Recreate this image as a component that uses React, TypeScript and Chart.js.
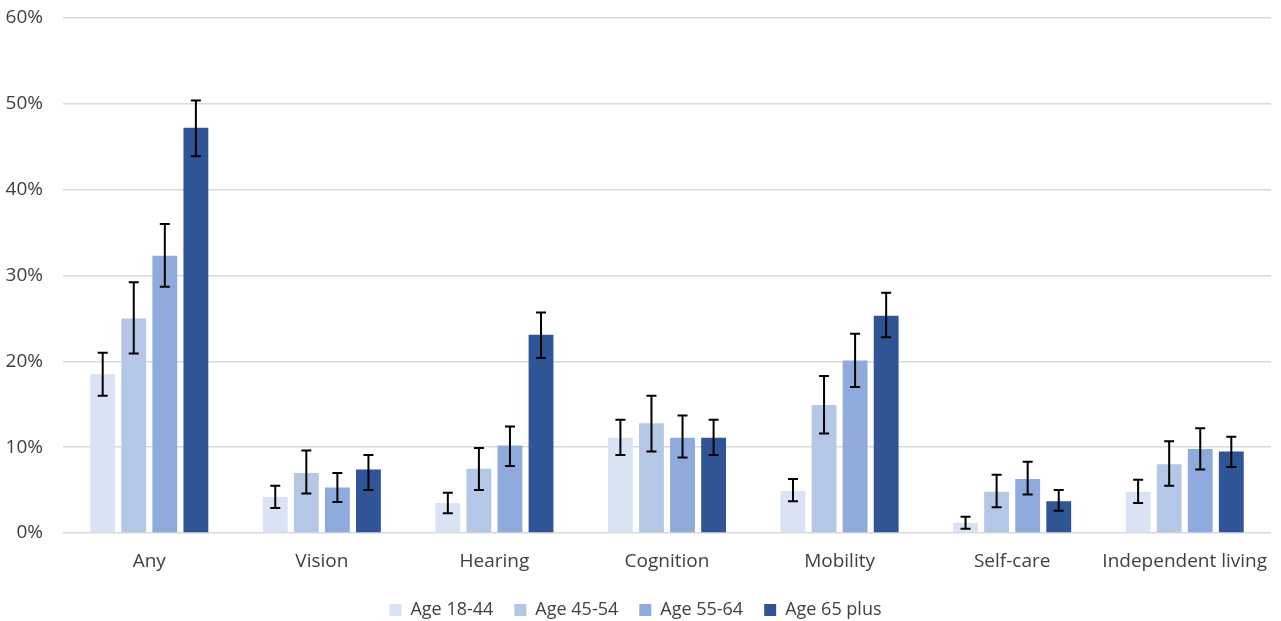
import React, { useEffect, useRef } from "react";
import { Chart, registerables } from "chart.js";

Chart.register(...registerables);

const categories = ["Any", "Vision", "Hearing", "Cognition", "Mobility", "Self-care", "Independent living"];
const seriesLabels = ["Age 18-44", "Age 45-54", "Age 55-64", "Age 65 plus"];
const colors = ["#dae3f3", "#b4c7e7", "#8faadc", "#2f5597"];

const age1844 = [18.5, 4.2, 3.5, 11.1, 4.9, 1.2, 4.8];
const age4554 = [25.0, 7.0, 7.5, 12.8, 14.9, 4.8, 8.0];
const age5564 = [32.3, 5.3, 10.2, 11.1, 20.1, 6.3, 9.8];
const age65plus = [47.2, 7.4, 23.1, 11.1, 25.3, 3.7, 9.5];

const hi1844 = [21.0, 5.5, 4.7, 13.2, 6.3, 1.9, 6.2];
const lo1844 = [16.0, 2.9, 2.3, 9.1, 3.7, 0.5, 3.5];
const hi4554 = [29.2, 9.6, 9.9, 16.0, 18.3, 6.8, 10.7];
const lo4554 = [20.9, 4.6, 5.0, 9.5, 11.6, 3.0, 5.5];
const hi5564 = [36.0, 7.0, 12.4, 13.7, 23.2, 8.3, 12.2];
const lo5564 = [28.7, 3.6, 7.8, 8.8, 17.0, 4.5, 7.4];
const hi65plus = [50.4, 9.1, 25.7, 13.2, 28.0, 5.0, 11.2];
const lo65plus = [43.9, 5.0, 20.4, 9.1, 22.8, 2.6, 7.7];

const yTicks = [0, 10, 20, 30, 40, 50, 60];

const values = [age1844, age4554, age5564, age65plus];
const highs = [hi1844, hi4554, hi5564, hi65plus];
const lows = [lo1844, lo4554, lo5564, lo65plus];

const FONT = "'Open Sans', Lato, sans-serif";

const errorBarPlugin = {
  id: "errorBars",
  afterDatasetsDraw(chart: any) {
    const ctx = chart.ctx;
    const yScale = chart.scales.y;
    ctx.save();
    ctx.strokeStyle = "#000000";
    ctx.lineWidth = 2;
    chart.data.datasets.forEach((ds: any, di: number) => {
      const meta = chart.getDatasetMeta(di);
      if (meta.hidden) return;
      meta.data.forEach((bar: any, i: number) => {
        const x = bar.x;
        const yh = yScale.getPixelForValue(ds.errHigh[i]);
        const yl = yScale.getPixelForValue(ds.errLow[i]);
        const cap = 5;
        ctx.beginPath();
        ctx.moveTo(x, yh);
        ctx.lineTo(x, yl);
        ctx.moveTo(x - cap, yh);
        ctx.lineTo(x + cap, yh);
        ctx.moveTo(x - cap, yl);
        ctx.lineTo(x + cap, yl);
        ctx.stroke();
      });
    });
    ctx.restore();
  },
};

export default function App() {
  const canvasRef = useRef<HTMLCanvasElement | null>(null);

  useEffect(() => {
    document.body.style.margin = "0";
    const canvas = canvasRef.current;
    if (!canvas) return;
    const chart = new Chart(canvas, {
      type: "bar",
      data: {
        labels: categories,
        datasets: seriesLabels.map((label, k) => ({
          label,
          data: values[k],
          errHigh: highs[k],
          errLow: lows[k],
          backgroundColor: colors[k],
          borderWidth: 0,
          barPercentage: 0.8,
          categoryPercentage: 0.72,
        })) as any,
      },
      options: {
        responsive: false,
        animation: false,
        layout: { padding: { top: 18, right: 10, left: 0, bottom: -8 } },
        scales: {
          x: {
            grid: { display: false },
            border: { display: false },
            ticks: {
              color: "#404040",
              font: { family: FONT, size: 19 },
              padding: 9,
              maxRotation: 0,
              autoSkip: false,
            },
            afterFit(scale: any) {
              scale.height = 47;
            },
          },
          y: {
            min: 0,
            max: 60,
            afterBuildTicks(scale: any) {
              scale.ticks = yTicks.map((v) => ({ value: v }));
            },
            grid: { color: "#d9d9d9", lineWidth: 1.5, drawTicks: false },
            border: { display: false },
            ticks: {
              color: "#404040",
              font: { family: FONT, size: 19 },
              padding: 20,
              callback: (v: any) => v + "%",
            },
            afterFit(scale: any) {
              scale.width = 63;
              scale.paddingTop = 0;
              scale.paddingBottom = 0;
            },
          },
        },
        plugins: {
          legend: {
            position: "bottom",
            labels: {
              color: "#404040",
              font: { family: FONT, size: 18 },
              boxWidth: 12,
              boxHeight: 12,
              padding: 21,
            },
          },
          tooltip: { enabled: false },
        },
      },
      plugins: [errorBarPlugin],
    });
    return () => chart.destroy();
  }, []);

  return (
    <div style={{ width: 1281, height: 621 }}>
      <canvas ref={canvasRef} width={1281} height={621} style={{ display: "block" }} />
    </div>
  );
}
